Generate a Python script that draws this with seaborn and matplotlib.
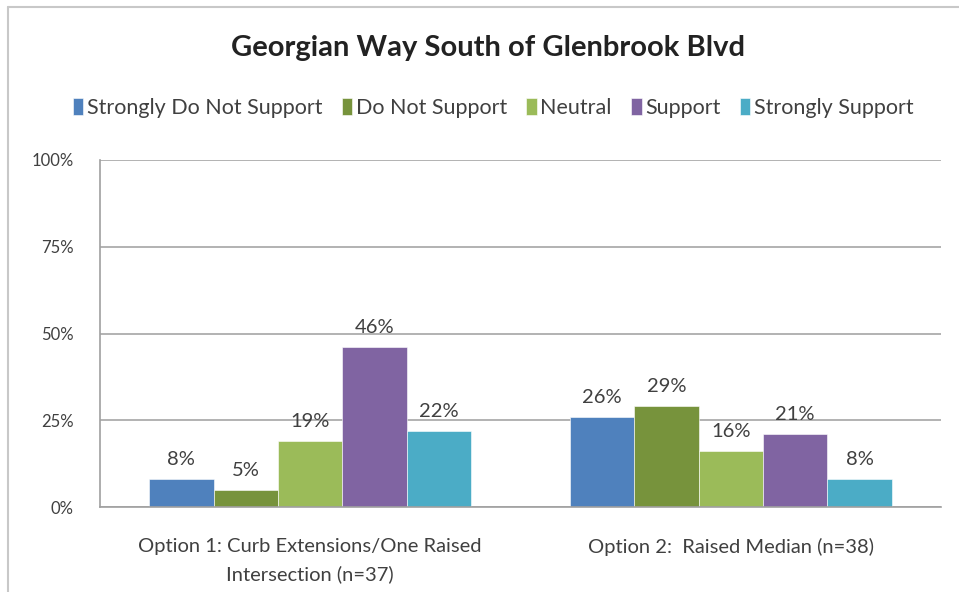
import matplotlib
matplotlib.use("Agg")
import matplotlib.pyplot as plt
import seaborn as sns
import pandas as pd
from matplotlib.lines import Line2D
from matplotlib.ticker import FixedLocator

categories = ["Option 1: Curb Extensions/One Raised\nIntersection (n=37)",
              "Option 2:  Raised Median (n=38)"]
responses = ["Strongly Do Not Support", "Do Not Support", "Neutral", "Support", "Strongly Support"]
option1 = [8, 5, 19, 46, 22]
option2 = [26, 29, 16, 21, 8]
colors = ["#4F81BD", "#77933C", "#9BBB59", "#8064A2", "#4BACC6"]
yticks = [0, 25, 50, 75, 100]

rows = []
for cat, vals in zip(categories, [option1, option2]):
    for r, v in zip(responses, vals):
        rows.append({"Option": cat, "Response": r, "Value": v})
df = pd.DataFrame(rows)

sns.set_theme(style="white")
plt.rcParams['font.family'] = ['Lato', 'DejaVu Sans']

fig = plt.figure(figsize=(9.59, 5.92), dpi=100)
ax = fig.add_axes([100/959, 1-507/592, 841/959, 347/592])

sns.barplot(data=df, x="Option", y="Value", hue="Response", hue_order=responses,
            palette=colors, width=0.766, ax=ax, legend=True, saturation=1,
            edgecolor="white", linewidth=0.4)

for cont in ax.containers:
    ax.bar_label(cont, fmt="%d%%", padding=8, fontsize=14.5, color="#404040")

ax.set_ylim(0, 100)
ax.set_xlim(-0.5, 1.5)
ax.set_yticks(yticks)
ax.set_yticklabels([f"{t}%" for t in yticks], fontsize=12, color="#404040")
ax.set_xlabel("")
ax.set_ylabel("")
ax.tick_params(axis="x", labelsize=14.5, labelcolor="#404040", length=0, pad=22)
for lbl in ax.get_xticklabels():
    lbl.set_linespacing(1.75)
    lbl.set_verticalalignment("top")
ax.tick_params(axis="y", length=7, width=1, color="#A0A0A0", direction="out", pad=12)
ax.yaxis.grid(True, color="#A6A6A6", linewidth=1.2)
ax.set_axisbelow(True)
for s in ["top", "right"]:
    ax.spines[s].set_visible(False)
for s in ["left", "bottom"]:
    ax.spines[s].set_color("#A0A0A0")
    ax.spines[s].set_linewidth(1.2)

# category boundary ticks on x axis
ax.xaxis.set_minor_locator(FixedLocator([-0.5, 0.5, 1.5]))
ax.tick_params(axis="x", which="minor", length=6, width=1, color="#A0A0A0", direction="out")

h, l = ax.get_legend_handles_labels()
ax.legend(h, l, loc="center", bbox_to_anchor=(493/959, 1-108/592), bbox_transform=fig.transFigure,
          ncol=5, frameon=False, fontsize=15.5, handlelength=0.5, handleheight=0.8,
          handletextpad=0.15, columnspacing=0.9, labelcolor="#404040")

fig.text(488/959, 1-48/592, "Georgian Way South of Glenbrook Blvd", ha="center", va="center",
         fontsize=21, fontweight="bold", color="#222222")

# chart border (left and top)
fig.add_artist(Line2D([8/959, 8/959], [0, 1-7/592], transform=fig.transFigure, color="#C8C8C8", lw=1.5))
fig.add_artist(Line2D([8/959, 1], [1-7/592, 1-7/592], transform=fig.transFigure, color="#C8C8C8", lw=1.5))

fig.savefig("out.png", dpi=100)
